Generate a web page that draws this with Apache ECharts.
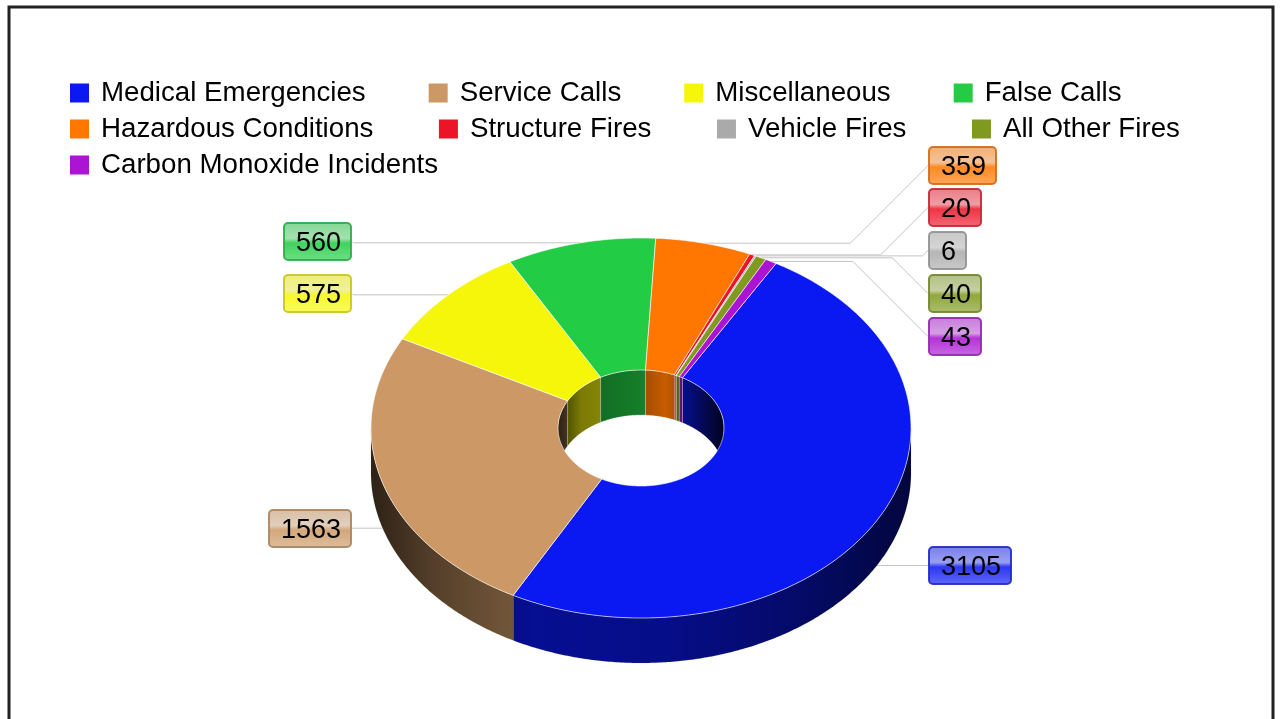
<!DOCTYPE html>
<html>
<head>
<meta charset="utf-8">
<title>Incidents</title>
<script src="https://cdn.jsdelivr.net/npm/echarts@6/dist/echarts.min.js"></script>
<style>
  html, body { margin: 0; padding: 0; background: #fff; overflow: hidden; }
  #chart { width: 1281px; height: 719px; }
</style>
</head>
<body>
<div id="chart"></div>
<script>
// values
const categories = ['Medical Emergencies', 'Service Calls', 'Miscellaneous', 'False Calls',
  'Hazardous Conditions', 'Structure Fires', 'Vehicle Fires', 'All Other Fires', 'Carbon Monoxide Incidents']
const incidents = [3105, 1563, 575, 560, 359, 20, 6, 40, 43]
const colors = ['#0a18f2', '#cc9966', '#f6f60a', '#22cc44', '#ff7700', '#ee1428', '#aaaaaa', '#7f9a1e', '#aa14d2']
const legendRows = [categories.slice(0, 4), categories.slice(4, 8), categories.slice(8)]
const legendGaps = [63, 65.5, 63]

// label box placement
const boxLeft = [928, 268, 283, 283, 928, 928, 928, 928, 928]
const boxTop = [546, 509, 274, 222, 146, 188, 231, 274, 317]
const boxWidth = [84, 84, 69, 69, 69, 54, 39, 54, 54]
const boxHeight = 39

// pie geometry
const cx = 641, cy = 428, rx = 270, ry = 190, holeRx = 83, holeRy = 58, depth = 45
const startDeg = 30
const total = incidents.reduce((a, b) => a + b, 0)
const FONT = '"Liberation Sans", Arial, sans-serif'

function rad(deg) { return deg * Math.PI / 180 }
function onEllipse(a, b, deg, dy) {
  return [cx + a * Math.sin(rad(deg)), cy - b * Math.cos(rad(deg)) + (dy || 0)]
}
function arc(a, b, from, to, dy) {
  const n = Math.max(2, Math.ceil(Math.abs(to - from) / 0.5))
  const pts = []
  for (let i = 0; i <= n; i++) pts.push(onEllipse(a, b, from + (to - from) * i / n, dy))
  return pts
}
function rgb(hex) {
  const n = parseInt(hex.slice(1), 16)
  return [(n >> 16) & 255, (n >> 8) & 255, n & 255]
}
function shade(hex, f) {
  return 'rgb(' + rgb(hex).map(c => Math.round(c * f)).join(',') + ')'
}
// blend towards a grey level, used for the gloss on the value boxes
function mix(hex, grey, f) {
  return 'rgb(' + rgb(hex).map(c => Math.round(c + (grey - c) * f)).join(',') + ')'
}
function wallFill(color, x0, x1, stops) {
  return new echarts.graphic.LinearGradient(x0, 0, x1, 0,
    stops.map(s => ({ offset: s[0], color: shade(color, s[1]) })), true)
}
function overlap(from, to, lo, hi) {
  const a = Math.max(from, lo), b = Math.min(to, hi)
  return b > a ? [a, b] : null
}

function renderSlice(params, api) {
  const i = params.seriesIndex
  const value = api.value(0)
  let before = 0
  for (let k = 0; k < i; k++) before += incidents[k]
  const from = startDeg + before / total * 360
  const to = from + value / total * 360
  const mid = (from + to) / 2
  const color = colors[i]
  const children = []

  // inner wall, far side of the hole. Angles run 30..390 so the band shows up twice
  const innerStops = [[0, 0.22], [0.14, 0.5], [0.5, 0.62], [0.65, 0.78], [0.82, 0.46], [1, 0.12]]
  ;[[-90, 90], [270, 450]].forEach(band => {
    const o = overlap(from, to, band[0], band[1])
    if (!o) return
    const top = arc(holeRx, holeRy, o[0], o[1])
    const bottom = arc(holeRx, holeRy, o[1], o[0], depth)
    children.push({
      type: 'polygon', z2: 1,
      shape: { points: top.concat(bottom) },
      style: { fill: wallFill(color, cx - holeRx, cx + holeRx, innerStops), stroke: 'rgba(255,255,255,0.35)', lineWidth: 0.6 }
    })
  })

  // outer wall, near side
  const front = overlap(from, to, 90, 270)
  if (front) {
    const top = arc(rx, ry, front[0], front[1])
    const bottom = arc(rx, ry, front[1], front[0], depth)
    children.push({
      type: 'polygon', z2: 2,
      shape: { points: top.concat(bottom) },
      style: {
        fill: wallFill(color, cx - rx, cx + rx, [[0, 0.22], [0.12, 0.42], [0.3, 0.6], [0.55, 0.56], [0.8, 0.42], [1, 0.25]]),
        stroke: 'rgba(120,120,60,0.25)', lineWidth: 0.5
      }
    })
  }

  // top face
  children.push({
    type: 'polygon', z2: 4,
    shape: { points: arc(rx, ry, from, to).concat(arc(holeRx, holeRy, to, from)) },
    style: { fill: color, stroke: 'rgba(255,255,255,0.75)', lineWidth: 0.8 }
  })

  // connector: diagonal from the box, then level into the slice
  const onFront = Math.cos(rad(mid)) < 0
  const anchor = onEllipse(rx, ry, mid, onFront ? depth : 0)
  const left = boxLeft[i] < cx
  const bx = left ? boxLeft[i] + boxWidth[i] : boxLeft[i]
  const by = boxTop[i] + boxHeight / 2
  const elbow = bx + (left ? 1 : -1) * Math.abs(anchor[1] - by)
  children.push({
    type: 'polyline', z2: 0,
    shape: { points: [[bx, by], [elbow, anchor[1]], anchor] },
    style: { fill: null, stroke: '#c4c4c4', lineWidth: 1 }
  })

  // glossy value box
  children.push({
    type: 'rect', z2: 6,
    shape: { x: boxLeft[i] + 1, y: boxTop[i] + 1, width: boxWidth[i] - 2, height: boxHeight - 2, r: 4 },
    style: {
      fill: new echarts.graphic.LinearGradient(0, 0, 0, 1, [
        { offset: 0, color: mix(color, 225, 0.45) },
        { offset: 0.42, color: mix(color, 235, 0.6) },
        { offset: 0.54, color: mix(color, 255, 0.06) },
        { offset: 1, color: mix(color, 255, 0.3) }
      ]),
      stroke: mix(color, 90, 0.3), lineWidth: 2, opacity: 0.92
    }
  })
  children.push({
    type: 'text', z2: 7,
    style: {
      x: boxLeft[i] + boxWidth[i] / 2 + 1, y: boxTop[i] + boxHeight / 2 + 2,
      text: String(value), fill: '#000', font: '27px ' + FONT,
      align: 'center', verticalAlign: 'middle'
    }
  })
  return { type: 'group', children: children }
}

const chart = echarts.init(document.getElementById('chart'), null, { renderer: 'canvas' })
chart.setOption({
  animation: false,
  backgroundColor: '#fff',
  tooltip: { show: false },
  legend: legendRows.map((row, r) => ({
    data: row,
    left: 70,
    top: 79 + r * 36,
    padding: 0,
    itemGap: legendGaps[r],
    itemWidth: 19,
    itemHeight: 19,
    icon: 'rect',
    selectedMode: false,
    textStyle: { fontFamily: FONT, fontSize: 27.7, color: '#000', padding: [0, 0, 0, 7] }
  })),
  graphic: [{
    type: 'rect', silent: true, z: 100,
    shape: { x: 9, y: 7, width: 1264, height: 780 },
    style: { fill: null, stroke: '#222', lineWidth: 3 }
  }],
  series: categories.map((name, i) => ({
    type: 'custom',
    name: name,
    coordinateSystem: 'none',
    silent: true,
    itemStyle: { color: colors[i] },
    renderItem: renderSlice,
    data: [[incidents[i]]]
  }))
})
</script>
</body>
</html>
